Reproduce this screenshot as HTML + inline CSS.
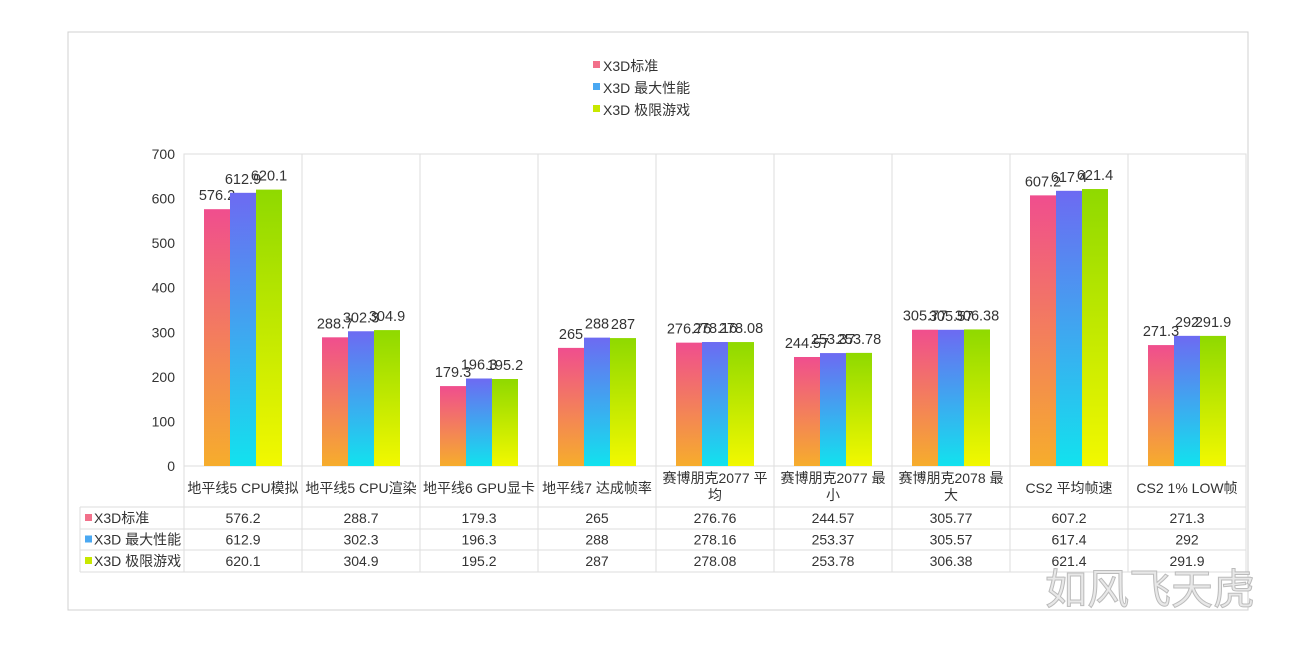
<!DOCTYPE html>
<html><head><meta charset="utf-8"><style>
body{margin:0;background:#fff;font-family:"Liberation Sans","Noto Sans CJK SC",sans-serif;}
svg text{font-family:"Liberation Sans","Noto Sans CJK SC",sans-serif;fill:#333;}
</style></head><body>
<svg width="1291" height="640" xmlns="http://www.w3.org/2000/svg" id="chart">
<defs>
<linearGradient id="g0" x1="0" y1="0" x2="0" y2="1"><stop offset="0" stop-color="#f04e8e"/><stop offset="1" stop-color="#f6ad2c"/></linearGradient>
<linearGradient id="g1" x1="0" y1="0" x2="0" y2="1"><stop offset="0" stop-color="#6d6af2"/><stop offset="1" stop-color="#12e2ee"/></linearGradient>
<linearGradient id="g2" x1="0" y1="0" x2="0" y2="1"><stop offset="0" stop-color="#8fd900"/><stop offset="1" stop-color="#f2f800"/></linearGradient>
</defs>
<rect x="68" y="32" width="1180" height="578" fill="#fff" stroke="#d0d0d0"/>
<g id="legend"></g>
<g id="grid"></g><g id="bars"></g><g id="table"></g>
<text x="1045" y="604" font-size="42" style="fill:#e8e8e8;stroke:#bbb;stroke-width:1">如风飞天虎</text>
</svg>
<script>
const categories=["地平线5 CPU模拟","地平线5 CPU渲染","地平线6 GPU显卡","地平线7 达成帧率","赛博朋克2077 平|均","赛博朋克2077 最|小","赛博朋克2078 最|大","CS2 平均帧速","CS2 1% LOW帧"];
const seriesNames=["X3D标准","X3D 最大性能","X3D 极限游戏"];
const s1=[576.2,288.7,179.3,265,276.76,244.57,305.77,607.2,271.3];
const s2=[612.9,302.3,196.3,288,278.16,253.37,305.57,617.4,292];
const s3=[620.1,304.9,195.2,287,278.08,253.78,306.38,621.4,291.9];
const ticks=[0,100,200,300,400,500,600,700];
const series=[s1,s2,s3];
const NS="http://www.w3.org/2000/svg";
const X0=184,X1=1246,Y0=466,Y1=154,YMAX=700;
const cw=(X1-X0)/categories.length;
const y=v=>Y0-(v/YMAX)*(Y0-Y1);
function mk(p,tag,at,txt){const e=document.createElementNS(NS,tag);for(const k in at)e.setAttribute(k,at[k]);if(txt!==undefined)e.textContent=txt;document.getElementById(p).appendChild(e);return e;}
const legCols=["#f2708a","#4aa8f2","#c8e800"];
seriesNames.forEach((n,i)=>{
 const r=mk('legend','rect',{x:593,y:61+i*22,width:7,height:7,fill:legCols[i]});
 
 
 const t=mk('legend','text',{x:603,y:71+i*22,'font-size':14},n);
 
 
});
mk('grid','rect',{x:X0,y:Y1,width:X1-X0,height:Y0-Y1,fill:'none',stroke:'#ddd'});
ticks.forEach(t=>{
 const l=mk('grid','text',{x:175,y:y(t)+5,'font-size':14,'text-anchor':'end'},t);
 
 
});
for(let i=0;i<=categories.length;i++){
 mk('grid','line',{x1:X0+i*cw,x2:X0+i*cw,y1:Y1,y2:572,stroke:'#ddd'});
}
[507,529,550,572].forEach(yy=>mk('grid','line',{x1:80,x2:X1,y1:yy,y2:yy,stroke:'#ddd'}));
mk('grid','line',{x1:80,x2:80,y1:507,y2:572,stroke:'#ddd'});
const bw=26;
categories.forEach((c,ci)=>{
 const cx=X0+ci*cw+cw/2;
 series.forEach((s,si)=>{
  const bx=cx-39+si*bw;
  const b=mk('bars','rect',{x:bx,y:y(s[ci]),width:bw,height:Y0-y(s[ci]),fill:'url(#g'+si+')'});
  
  
  const v=mk('bars','text',{x:bx+bw/2,y:y(s[ci])-9,'font-size':14.5,'text-anchor':'middle'},s[ci]);
  
  
  const tv=mk('table','text',{x:cx,y:523+si*21.5,'font-size':14,'text-anchor':'middle'},s[ci]);
  
  
 });
 const parts=c.split('|');
 parts.forEach((p,pi)=>{
  const t=mk('table','text',{x:cx,y:(parts.length>1?483:493)+pi*17,'font-size':14,'text-anchor':'middle'},p);
  
  
 });
});
seriesNames.forEach((n,i)=>{
 mk('table','rect',{x:85,y:514+i*21.5,width:7,height:7,fill:legCols[i]});
 const t=mk('table','text',{x:94,y:523+i*21.5,'font-size':14},n);
 
 
});
</script>
</body></html>
